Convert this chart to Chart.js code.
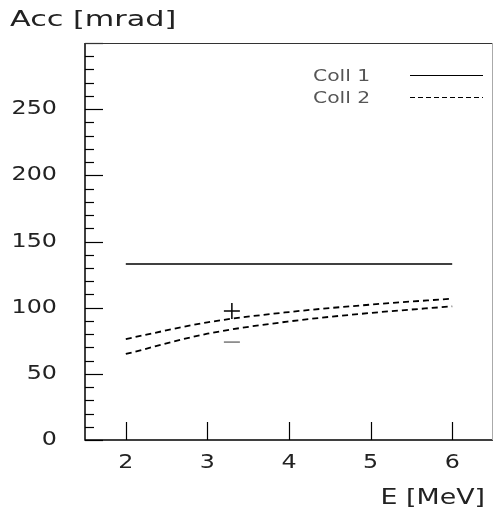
<!DOCTYPE html>
<html>
<head>
<meta charset="utf-8">
<script src="https://cdn.jsdelivr.net/npm/chart.js@4.4.0/dist/chart.umd.min.js"></script>
<style>
  html, body { margin: 0; padding: 0; background: #fff; }
  #wrap { width: 494px; height: 519px; }
</style>
</head>
<body>
<div id="wrap"><canvas id="accChart" width="494" height="519"></canvas></div>
<script>
// energies in MeV
const energies = [2, 3, 4, 5, 6];
// acceptance in mrad
const coll1 = [133, 133, 133, 133, 133];
const coll2Upper = [76.3, 88.9, 96.7, 102.3, 106.8];
const coll2Lower = [65, 80.3, 89.6, 96, 101];
// measured point with error bars and a lone tick below it
const measE = [3.3];
const measAcc = [97.5];
const lowE = [3.3];
const lowAcc = [74];

const xTicks = [2, 3, 4, 5, 6];
const yTicks = [0, 50, 100, 150, 200, 250];
const yMinor = [0, 10, 20, 30, 40, 50, 60, 70, 80, 90, 100, 110, 120, 130, 140, 150,
                160, 170, 180, 190, 200, 210, 220, 230, 240, 250, 260, 270, 280, 290, 300];

const toPts = (xs, ys) => xs.map((x, i) => ({ x: x, y: ys[i] }));
const FONT = '"DejaVu Sans", sans-serif';

// wide lettering: text stretched horizontally by factor k
function wideText(ctx, str, x, y, size, k, align) {
    ctx.font = size + 'px ' + FONT;
    const w = ctx.measureText(str).width * k;
    let x0 = x;
    if (align === 'right') x0 = x - w;
    else if (align === 'center') x0 = x - w / 2;
    ctx.save();
    ctx.translate(x0, y);
    ctx.scale(k, 1);
    ctx.textAlign = 'left';
    ctx.textBaseline = 'middle';
    ctx.fillText(str, 0, 0);
    ctx.restore();
}

// ticks point into the plot; frame, labels, titles and legend drawn by hand
const framePlugin = {
    id: 'frame',
    afterDatasetsDraw(chart) {
        const ctx = chart.ctx;
        const a = chart.chartArea;
        const xs = chart.scales.x, ys = chart.scales.y;
        ctx.save();
        ctx.strokeStyle = '#000';
        ctx.lineWidth = 1.2;
        yMinor.forEach(v => {
            const y = Math.round(ys.getPixelForValue(v)) + 0.5;
            const len = v % 50 === 0 ? 18 : 9;
            ctx.beginPath();
            ctx.moveTo(a.left, y);
            ctx.lineTo(a.left + len, y);
            ctx.stroke();
        });
        xTicks.forEach(v => {
            const x = Math.round(xs.getPixelForValue(v)) + 0.5;
            ctx.beginPath();
            ctx.moveTo(x, a.bottom);
            ctx.lineTo(x, a.bottom - 18);
            ctx.stroke();
        });
        // frame
        ctx.lineWidth = 1.5;
        ctx.beginPath();
        ctx.moveTo(a.left, a.top);
        ctx.lineTo(a.left, a.bottom);
        ctx.lineTo(a.right, a.bottom);
        ctx.stroke();
        ctx.lineWidth = 1;
        ctx.strokeStyle = '#333';
        ctx.beginPath();
        ctx.moveTo(a.left, a.top + 0.5);
        ctx.lineTo(a.right, a.top + 0.5);
        ctx.stroke();
        ctx.strokeStyle = '#aaa';
        ctx.beginPath();
        ctx.moveTo(a.right - 0.5, a.top);
        ctx.lineTo(a.right - 0.5, a.bottom);
        ctx.stroke();

        // tick labels
        ctx.fillStyle = '#222';
        ys.ticks.forEach(t => {
            wideText(ctx, String(t.value), a.left - 28, ys.getPixelForValue(t.value), 19.5, 1.22, 'right');
        });
        xs.ticks.forEach(t => {
            wideText(ctx, String(t.value), xs.getPixelForValue(t.value), a.bottom + 23, 19.5, 1.22, 'center');
        });

        // axis titles
        wideText(ctx, 'Acc [mrad]', 10, 21, 21, 1.44, 'left');
        wideText(ctx, 'E [MeV]', 485, 498, 22, 1.22, 'right');

        // legend
        ctx.fillStyle = '#555';
        wideText(ctx, 'Coll 1', 313, 77, 16, 1.27, 'left');
        wideText(ctx, 'Coll 2', 313, 99, 16, 1.27, 'left');
        ctx.strokeStyle = '#000';
        ctx.lineWidth = 1.2;
        ctx.beginPath();
        ctx.moveTo(410, 75.5);
        ctx.lineTo(483, 75.5);
        ctx.stroke();
        ctx.setLineDash([5, 3]);
        ctx.beginPath();
        ctx.moveTo(410, 97.5);
        ctx.lineTo(483, 97.5);
        ctx.stroke();
        ctx.restore();
    }
};

const ctx = document.getElementById('accChart').getContext('2d');
new Chart(ctx, {
    type: 'line',
    data: {
        datasets: [
            {
                label: 'Coll 1',
                data: toPts(energies, coll1),
                borderColor: '#000',
                borderWidth: 1.5,
                pointRadius: 0
            },
            {
                label: 'Coll 2',
                data: toPts(energies, coll2Upper),
                borderColor: '#000',
                borderWidth: 1.8,
                borderDash: [6, 4],
                cubicInterpolationMode: 'monotone',
                pointRadius: 0
            },
            {
                label: 'Coll 2 low',
                data: toPts(energies, coll2Lower),
                borderColor: '#000',
                borderWidth: 1.8,
                borderDash: [6, 4],
                cubicInterpolationMode: 'monotone',
                pointRadius: 0
            },
            {
                label: 'meas',
                data: toPts(measE, measAcc),
                showLine: false,
                pointStyle: 'cross',
                pointRadius: 8,
                borderColor: '#000',
                borderWidth: 1.5
            },
            {
                label: 'low',
                data: toPts(lowE, lowAcc),
                showLine: false,
                pointStyle: 'line',
                pointRadius: 8,
                borderColor: '#555',
                borderWidth: 1.2
            }
        ]
    },
    options: {
        responsive: false,
        animation: false,
        layout: { autoPadding: false, padding: { top: 43, right: 1, left: 0, bottom: 0 } },
        plugins: {
            legend: { display: false },
            tooltip: { enabled: false }
        },
        scales: {
            x: {
                type: 'linear',
                min: 1.5,
                max: 6.5,
                afterBuildTicks: s => { s.ticks = xTicks.map(v => ({ value: v })); },
                afterFit: s => { s.height = 79; s.paddingLeft = 0; s.paddingRight = 0; },
                grid: { display: false, drawTicks: false },
                border: { display: false },
                ticks: { display: false }
            },
            y: {
                min: 0,
                max: 300,
                afterBuildTicks: s => { s.ticks = yTicks.map(v => ({ value: v })); },
                afterFit: s => { s.width = 85; s.paddingTop = 0; s.paddingBottom = 0; },
                grid: { display: false, drawTicks: false },
                border: { display: false },
                ticks: { display: false }
            }
        }
    },
    plugins: [framePlugin]
});
</script>
</body>
</html>
